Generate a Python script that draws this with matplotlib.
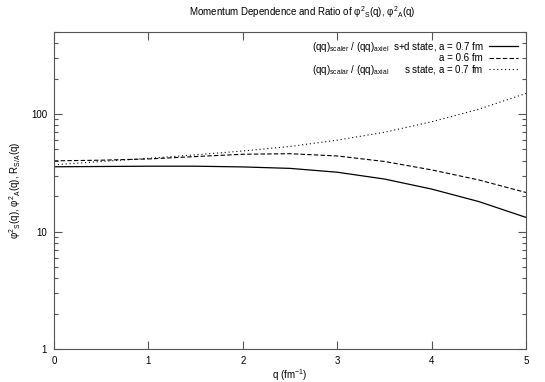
import matplotlib
matplotlib.use("Agg")
import matplotlib.pyplot as plt
from matplotlib.ticker import LogLocator, NullFormatter, FixedLocator
import numpy as np

plt.rcParams['font.family'] = ['Liberation Sans', 'DejaVu Sans']
plt.rcParams['mathtext.fontset'] = 'custom'
plt.rcParams['mathtext.rm'] = 'Liberation Sans'
plt.rcParams['mathtext.default'] = 'regular'

# values
q = [0, 0.5, 1, 1.5, 2, 2.5, 3, 3.5, 4, 4.5, 5]
sd_07 = [35.6, 35.8, 36, 36, 35.5, 34.5, 32, 28, 23, 18, 13.2]
sd_06 = [40, 40.5, 41.5, 43.5, 45.5, 46, 44, 39.5, 33.5, 27.5, 21.5]
s_07 = [37, 39.5, 42, 45, 48.5, 53, 60, 70, 86, 110, 150]

labels = [r"(qq)$_{scaler}$ / (qq)$_{axiel}$  s+d state, a = 0.7 fm",
          "a = 0.6 fm",
          r"(qq)$_{scalar}$ / (qq)$_{axial}$      s state, a = 0.7 fm"]

fig = plt.figure(figsize=(5.45, 3.82), dpi=100)
ax = fig.add_axes([54/545, 33/382, (526-54)/545, (349-32)/382])

ax.plot(q, sd_07, color='black', lw=0.9, ls='-', label=labels[0])
ax.plot(q, sd_06, color='black', lw=0.8, ls=(0, (4, 2)), label=labels[1])
ax.plot(q, s_07, color='black', lw=0.8, ls=(0, (1, 2.5)), label=labels[2])

ax.set_yscale('log')
ax.set_xlim(0, 5)
ax.set_ylim(1, 500)
ax.yaxis.set_major_locator(FixedLocator([1, 10, 100]))
ax.set_yticklabels(['1', '10', '100'])
ax.yaxis.set_minor_locator(LogLocator(base=10, subs=np.arange(2, 10), numticks=20))
ax.yaxis.set_minor_formatter(NullFormatter())
ax.set_xticks([0, 1, 2, 3, 4, 5])

for sp in ax.spines.values():
    sp.set_color('#555555')
    sp.set_linewidth(0.8)
ax.tick_params(which='both', direction='in', top=True, right=True,
               color='#555555', labelsize=7, width=0.8)
ax.tick_params(which='major', length=6, pad=5)
ax.tick_params(which='minor', length=3)

ax.set_xlabel(r"q (fm$^{-1}$)", fontsize=7, labelpad=1)
ax.set_ylabel(r"φ$^2$$_S$(q), φ$^2$$_A$(q), R$_{S/A}$(q)", fontsize=7, labelpad=6)

fig.text(302/545, 1 - 12/382, r"Momentum Dependence and Ratio of φ$^2$$_S$(q), φ$^2$$_A$(q)",
         ha='center', va='center', fontsize=7)

leg = ax.legend(loc='upper right', bbox_to_anchor=(1.0, 1.0), frameon=False,
                markerfirst=False, alignment='right', fontsize=7,
                handlelength=3.0, handletextpad=0.6, labelspacing=-0.05,
                borderaxespad=0.0, borderpad=0.8)

fig.savefig("out.png", dpi=100)
